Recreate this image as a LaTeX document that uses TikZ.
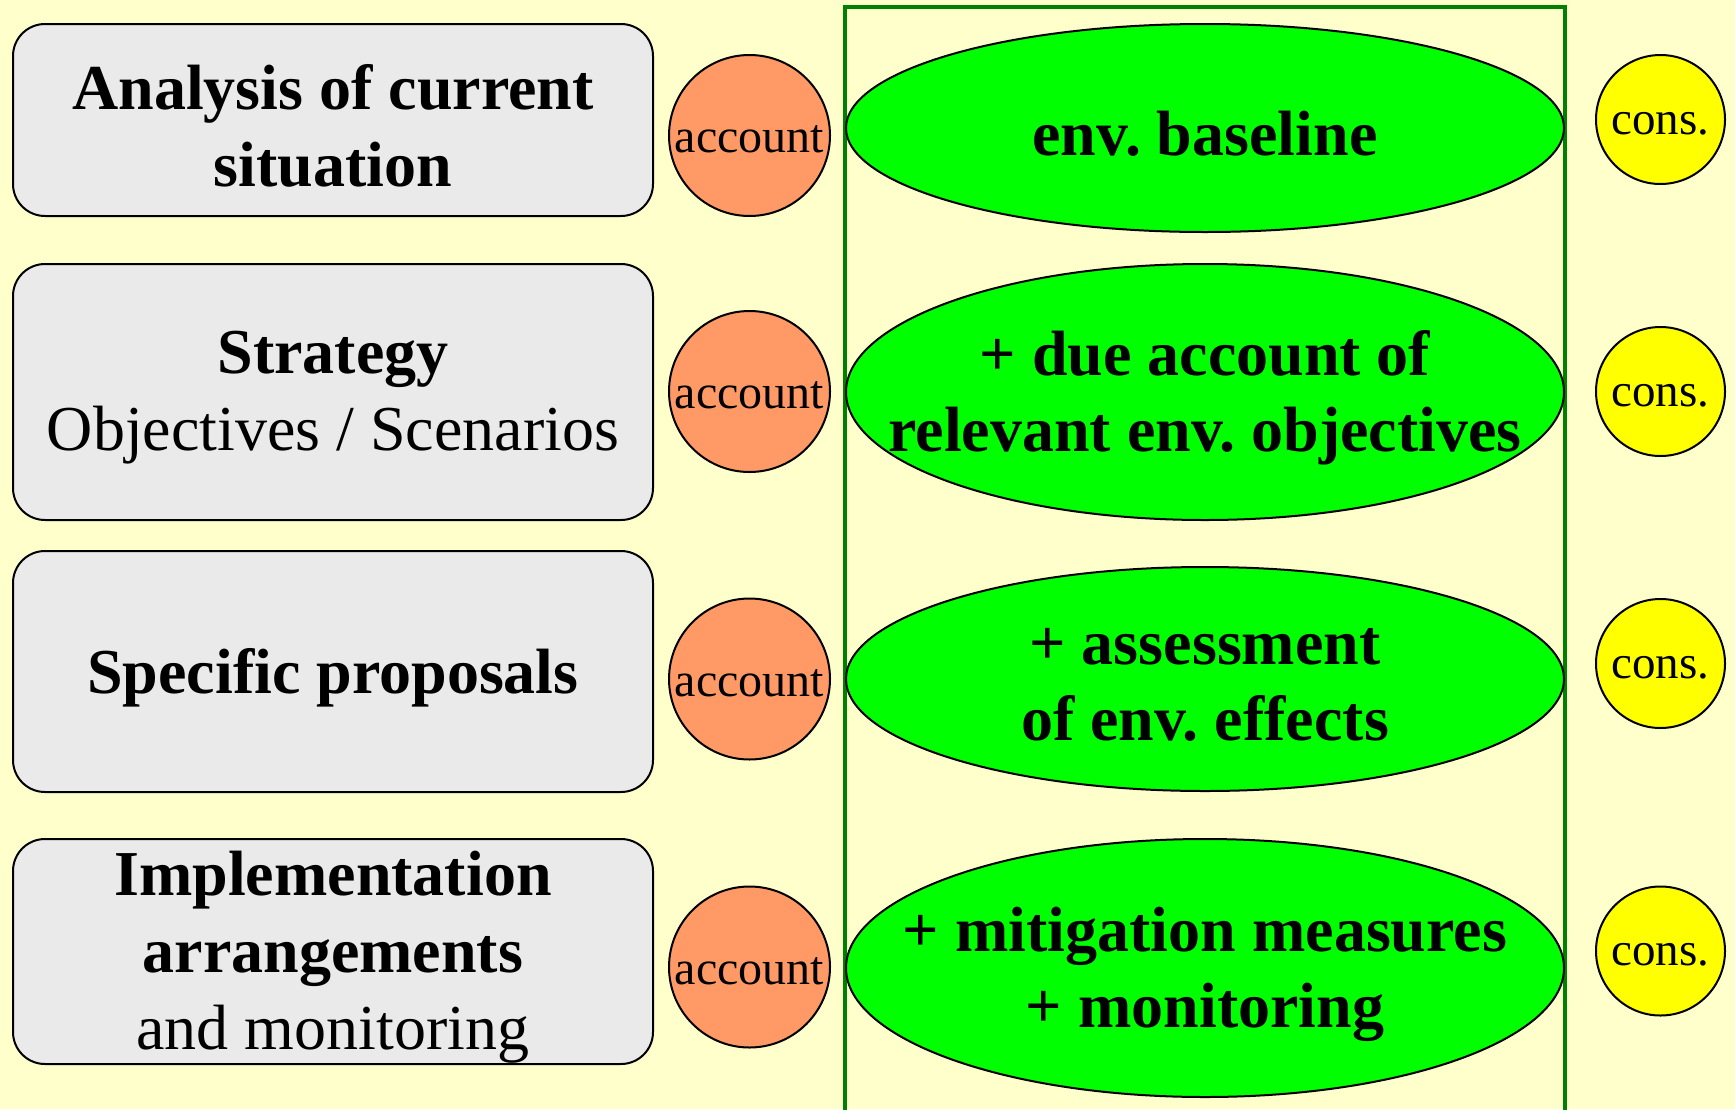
\documentclass[tikz,border=0pt]{standalone}
\usepackage{fontspec}
\setmainfont{Liberation Serif}
\usetikzlibrary{shapes.geometric}
\definecolor{bgyellow}{HTML}{FFFFCC}
\definecolor{boxgray}{HTML}{EAEAEA}
\definecolor{accorange}{HTML}{FF9966}
\definecolor{envgreen}{HTML}{00FF00}
\definecolor{consyellow}{HTML}{FFFF00}
\definecolor{framegreen}{HTML}{008000}
\tikzset{
  stagebox/.style={draw=black, line width=2pt, fill=boxgray, rounded corners=32pt,
    minimum width=640pt, inner sep=0pt},
  stagetext/.style={align=center, inner sep=0pt, yshift=-6pt, font=\fontsize{64}{77}\selectfont},
  acccircle/.style={circle, draw=black, line width=2pt, fill=accorange, minimum size=161pt, inner sep=0pt},
  acctext/.style={inner sep=0pt, yshift=-4pt, font=\fontsize{48}{56}\selectfont},
  conscircle/.style={circle, draw=black, line width=2pt, fill=consyellow, minimum size=129pt, inner sep=0pt},
  constext/.style={inner sep=0pt, yshift=-4pt, font=\fontsize{47}{56}\selectfont},
  envell/.style={ellipse, draw=black, line width=2pt, fill=envgreen, minimum width=718pt, inner sep=0pt},
  envtext/.style={align=center, inner sep=0pt, yshift=-6pt, font=\bfseries\fontsize{64}{76}\selectfont}
}
\begin{document}
\frenchspacing
\begin{tikzpicture}[x=1pt,y=-1pt]
\fill[bgyellow] (0,0) rectangle (1735,1109);
\useasboundingbox (0,0) rectangle (1735,1109);

% left stage boxes
\node[stagebox, minimum height=192pt] (b1) at (333,120) {};
\node[stagebox, minimum height=256pt] (b2) at (333,392) {};
\node[stagebox, minimum height=241pt] (b3) at (333,671.5) {};
\node[stagebox, minimum height=225pt] (b4) at (333,951.5) {};
\node[stagetext] (b1t) at (b1.center) {\textbf{Analysis of current}\\\textbf{situation}};
\node[stagetext] (b2t) at (b2.center) {\textbf{Strategy}\\Objectives / Scenarios};
\node[stagetext] (b3t) at (b3.center) {\textbf{Specific proposals}};
\node[stagetext] (b4t) at (b4.center) {\textbf{Implementation}\\\textbf{arrangements}\\and monitoring};

% account circles
\node[acccircle] (a1) at (749.5,135.5) {};
\node[acccircle] (a2) at (749.5,391.5) {};
\node[acccircle] (a3) at (749.5,679) {};
\node[acccircle] (a4) at (749.5,967) {};
\node[acctext] (a1t) at (a1.center) {account};
\node[acctext] (a2t) at (a2.center) {account};
\node[acctext] (a3t) at (a3.center) {account};
\node[acctext] (a4t) at (a4.center) {account};

% green frame
\begin{scope}
\clip (0,0) rectangle (1735,1109);
\draw[framegreen, line width=4pt] (844.5,1130) -- (844.5,7) -- (1565,7) -- (1565,1130);
\end{scope}

% env ellipses
\node[envell, minimum height=208pt] (e1) at (1205,128) {};
\node[envell, minimum height=256pt] (e2) at (1205,392) {};
\node[envell, minimum height=224pt] (e3) at (1205,679) {};
\node[envell, minimum height=258pt] (e4) at (1205,968) {};
\node[envtext] (e1t) at (e1.center) {env. baseline};
\node[envtext] (e2t) at (e2.center) {+ due account of\\relevant env. objectives};
\node[envtext] (e3t) at (e3.center) {+ assessment\\of env. effects};
\node[envtext] (e4t) at (e4.center) {+ mitigation measures\\+ monitoring};

% consultation circles
\node[conscircle] (c1) at (1660.5,119.5) {};
\node[conscircle] (c2) at (1660.5,391.5) {};
\node[conscircle] (c3) at (1660.5,663.5) {};
\node[conscircle] (c4) at (1660.5,951) {};
\node[constext] (c1t) at (c1.center) {cons.};
\node[constext] (c2t) at (c2.center) {cons.};
\node[constext] (c3t) at (c3.center) {cons.};
\node[constext] (c4t) at (c4.center) {cons.};
\end{tikzpicture}
\end{document}
